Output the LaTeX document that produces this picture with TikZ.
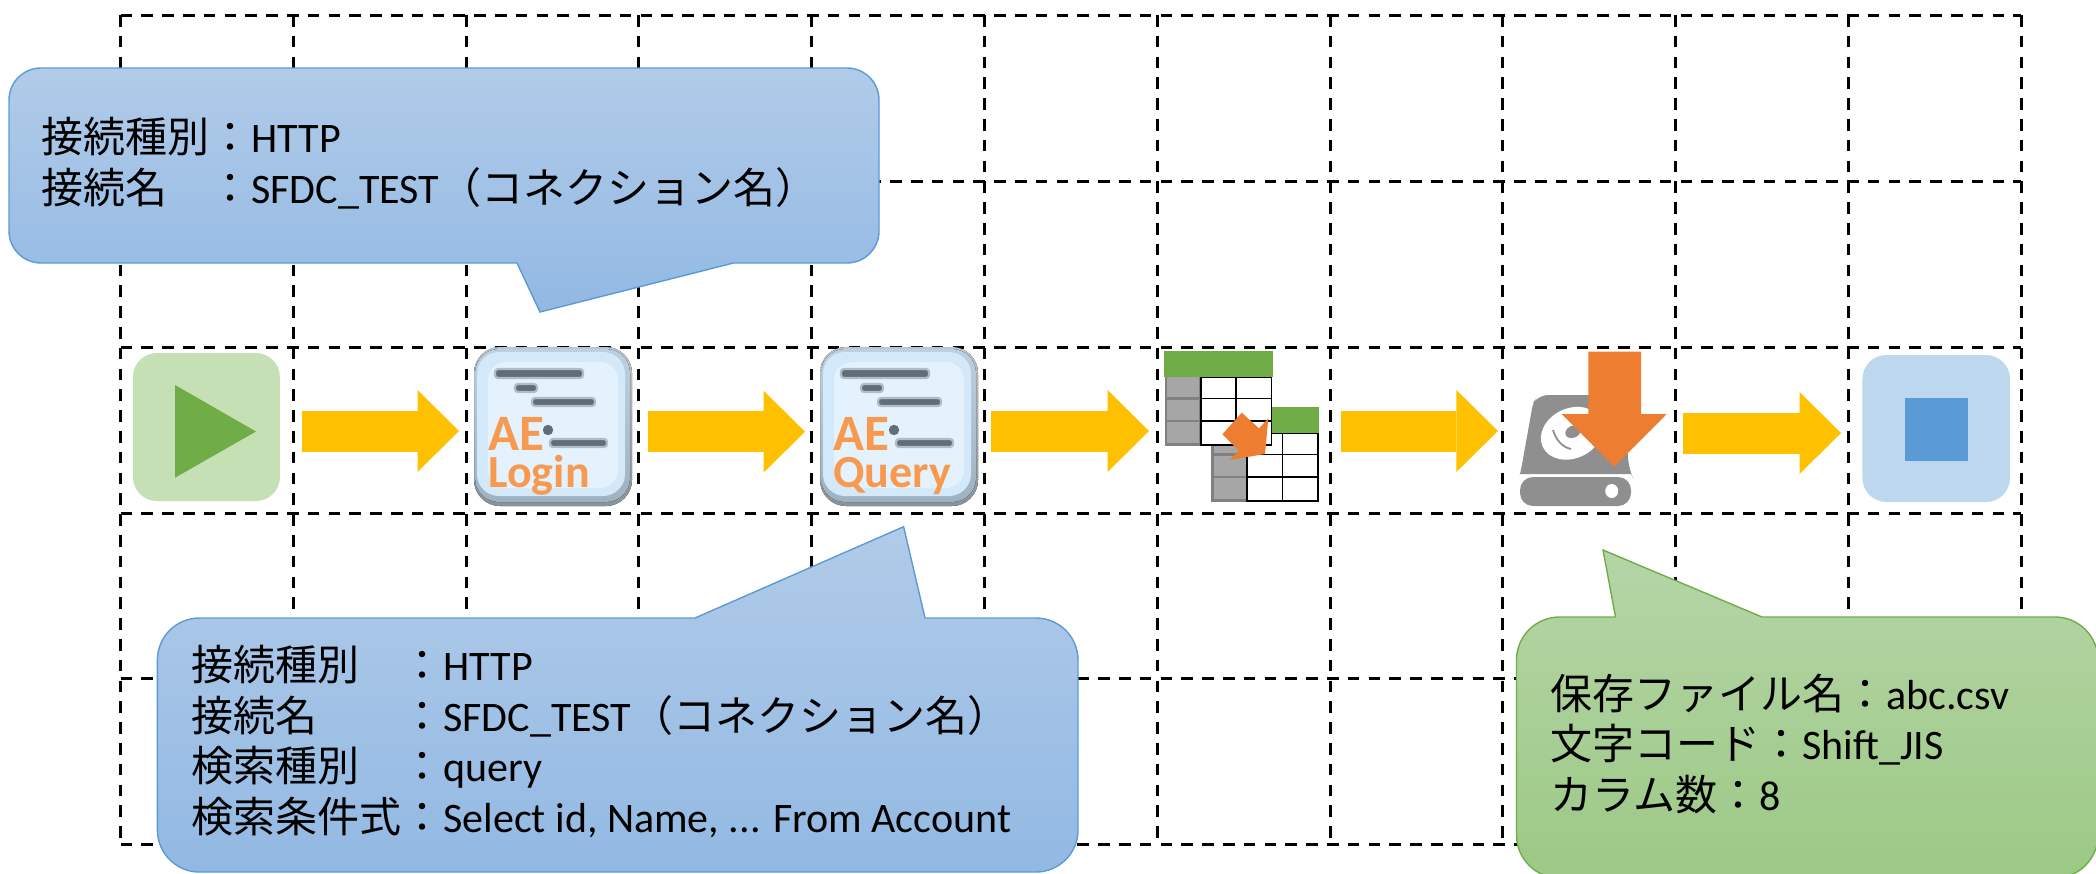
\documentclass[tikz,border=0pt]{standalone}
\usepackage{fontspec}
\setmainfont{Carlito}
\newfontfamily\jp{Noto Sans CJK JP}
\usetikzlibrary{arrows.meta,calc}
\AtBeginDocument{\normallineskiplimit=-100pt \lineskiplimit=-100pt}
\definecolor{flowc}{HTML}{FFC000}
\definecolor{orangec}{HTML}{ED7D31}
\definecolor{greenc}{HTML}{70AD47}
\definecolor{lgreenc}{HTML}{C5E0B4}
\definecolor{bluec}{HTML}{5B9BD5}
\definecolor{lbluec}{HTML}{BDD7EE}
\definecolor{ctop}{HTML}{B1CBE9}
\definecolor{cbot}{HTML}{92B9E3}
\definecolor{gtop}{HTML}{B5D5A7}
\definecolor{gbot}{HTML}{9CC985}
\definecolor{aeorange}{HTML}{F79A50}
\definecolor{aebar}{HTML}{5F6E79}
\definecolor{driveg}{HTML}{8F8F8F}
\definecolor{iconin}{HTML}{D3E9FA}
\definecolor{iconhi}{HTML}{E3F2FD}
\tikzset{
  gridline/.style={black,line width=1.5pt,dash pattern=on 5.8pt off 4.6pt},
  flow/.style={draw=flowc,line width=20.5pt,-{Triangle[length=20.75pt,width=41pt,line width=0pt]}},
  bluecall/.style={draw=bluec,line width=.7pt,top color=ctop,bottom color=cbot},
  greencall/.style={draw=greenc,line width=.7pt,top color=gtop,bottom color=gbot},
  calltext/.style={anchor=base west,inner sep=0pt,align=left,text=black,font=\fontsize{21}{25.3}\selectfont},
  hold/.style={inner sep=0pt,outer sep=0pt,minimum width=#1},
  aelabel/.style={anchor=base west,inner sep=0pt,align=left,text=aeorange,font=\bfseries\fontsize{23}{18.5}\selectfont},
  aebarsty/.style={fill=aebar,draw=aebar!40!iconhi,line width=1.1pt,rounded corners=1.5pt},
  gridcellline/.style={black,line width=.8pt},
}
\expandafter\def\csname lablogin\endcsname{Login}
\expandafter\def\csname labquery\endcsname{Query}
\newcommand{\aeicon}[3]{%
  \begin{scope}[shift={(#1,0)}]
    \fill[top color=aebar!40!white,bottom color=aebar!75!white,rounded corners=13pt] (474,347) rectangle (632,506);
    \fill[top color=iconin!80!aebar,bottom color=iconin!55!aebar,rounded corners=12pt] (475,349) rectangle (630,502);
    \fill[iconin,rounded corners=11pt] (477,352) rectangle (625,496);
    \fill[iconhi,rounded corners=9pt] (488,362) rectangle (618,488);
    \draw[aebarsty] (495,369) rectangle (583,378);
    \draw[aebarsty] (515,384) rectangle (537,392);
    \draw[aebarsty] (532,398) rectangle (595,406);
    \fill[aebar] (548,430) circle [radius=2.6pt];
    \draw[aebarsty] (550,439) rectangle (607,447);
    \node[aelabel] (#2lab) at (#3) {{\fontsize{25.5}{18.5}\selectfont AE}\\\csname lab#2\endcsname};
  \end{scope}}
\newcommand{\tableglyph}[2]{%
  \begin{scope}[shift={(#1,#2)}]
    \fill[white] (1200.7,376.7) rectangle (1271.3,445);
    \draw[fill=black!35,draw=black!50,line width=1.25pt] (1166,376.7) -- (1166,444.5) -- (1200.7,444.5) -- (1200.7,376.7);
    \draw[draw=black!50,line width=1.25pt] (1166,398.3) -- (1200.7,398.3) (1166,421) -- (1200.7,421);
    \draw[gridcellline] (1200.7,376.7) rectangle (1271.3,445);
    \draw[gridcellline] (1236,376.7) -- (1236,445) (1200.7,398.3) -- (1271.3,398.3) (1200.7,421) -- (1271.3,421);
    \fill[greenc] (1164,351) rectangle (1272.7,376.7);
  \end{scope}}
\begin{document}
\begin{tikzpicture}[x=0.5pt,y=-0.5pt]
\useasboundingbox (0,0) rectangle (2096,873);
% grid
\foreach \i in {0,...,11} \draw[gridline] ({120.5+172.8*\i},15) -- ({120.5+172.8*\i},844);
\foreach \j in {15,181,347,513,678,844} \draw[gridline] (120.5,\j) -- (2021,\j);
% start
\node[fill=lgreenc,rounded corners=12pt,hold=73.5pt,minimum height=74pt] (start) at (206.4,427) {};
\fill[greenc] (175,385) -- (256,431.5) -- (175,477.7) -- cycle;
% AE icons
\node[hold=79pt,minimum height=79.5pt] (login) at (553,426) {};
\node[hold=79pt,minimum height=79.5pt] (query) at (899,426) {};
\aeicon{0}{login}{488,487}
\aeicon{346}{query}{487,487}
% table
\node[hold=77.5pt,minimum height=75pt] (table) at (1241.5,426) {};
\tableglyph{46.5}{56}
\tableglyph{0}{0}
\fill[orangec] (1241.7,412.7) -- (1259,428.3) -- (1268.3,418.3) -- (1265,454) -- (1229.3,460) -- (1239,450.7) -- (1222.3,434.3) -- cycle;
% drive
\node[hold=55.5pt,minimum height=55.5pt] (drive) at (1575.4,450) {};
\fill[driveg,rounded corners=3pt] (1520,474) -- (1521,470) -- (1533,403) [rounded corners=5pt] -- (1538,395) -- (1623,395) -- (1629,470) [sharp corners] -- (1631,474) -- cycle;
\fill[driveg,rounded corners=6.5pt] (1520,477) rectangle (1631,506);
\fill[white,rotate around={25:(1571.7,433.3)}] (1571.7,433.3) ellipse [x radius=32,y radius=25];
\fill[driveg,rotate around={25:(1573,431.7)}] (1573,431.7) ellipse [x radius=8,y radius=6];
\draw[driveg,line width=.9pt] (1553,430) .. controls (1556,440) and (1562,447) .. (1571,449);
\fill[white] (1611.7,491) ellipse [x radius=6.5,y radius=7];
\fill[orangec] (1588.3,351.7) -- (1641,351.7) -- (1641,414) -- (1666.7,414) -- (1614.3,466.7) -- (1561.7,414) -- (1588.3,414) -- cycle;
% stop
\node[fill=lbluec,rounded corners=12pt,hold=73.8pt,minimum height=73.5pt] (stop) at (1936.2,428.5) {};
\fill[bluec] (1905,398) rectangle (1968,461);
% flow arrows
\draw[flow,shorten <=11pt,shorten >=7.5pt] ([yshift=-2pt]start.east) -- ([yshift=-2.5pt]login.west);
\draw[flow,shorten <=7.8pt,shorten >=7.5pt] ([yshift=-2.85pt]login.east) -- ([yshift=-2.85pt]query.west);
\draw[flow,shorten <=6.5pt,shorten >=7.5pt] ([yshift=-2.5pt]query.east) -- ([yshift=-2.5pt]table.west);
\draw[flow,shorten <=11pt,shorten >=11pt] ([yshift=-2.5pt]table.east) -- ([yshift=9.5pt]drive.west);
\draw[flow,shorten <=26pt,shorten >=10.7pt] ([yshift=8.5pt]drive.east) -- ([yshift=-2.25pt]stop.west);
% callout 1
\draw[bluecall] (517,263) -- (540,312) -- (733.5,263) [rounded corners=16pt] -- (879,263) -- (879,68) -- (9,68) -- (9,263) [sharp corners] -- cycle;
\node[calltext] (c1text) at (41,203) {{\jp 接続種別：}HTTP\\{\jp 接続名　：}SFDC\_TEST{\jp （コネクション名）}};
% callout 2
\draw[bluecall] (695,618) -- (903.6,526.7) -- (925,618) [rounded corners=21pt] -- (1078,618) -- (1078,872) -- (157.4,872) -- (157.4,618) [sharp corners] -- cycle;
\node[calltext] (c2text) at (191,832.5) {{\jp 接続種別　：}HTTP\\{\jp 接続名　　：}SFDC\_TEST{\jp （コネクション名）}\\{\jp 検索種別　：}query\\{\jp 検索条件式：}Select id, Name, ... From Account};
% callout 3
\draw[greencall] (1615.5,617) -- (1603,550) -- (1762,617) [rounded corners=21.5pt] -- (2098,617) -- (2098,878) -- (1516.5,878) -- (1516.5,617) [sharp corners] -- cycle;
\node[calltext] (c3text) at (1550,810.5) {{\jp 保存ファイル名：}abc.csv\\{\jp 文字コード：}Shift\_JIS\\{\jp カラム数：}8};
\end{tikzpicture}
\end{document}
